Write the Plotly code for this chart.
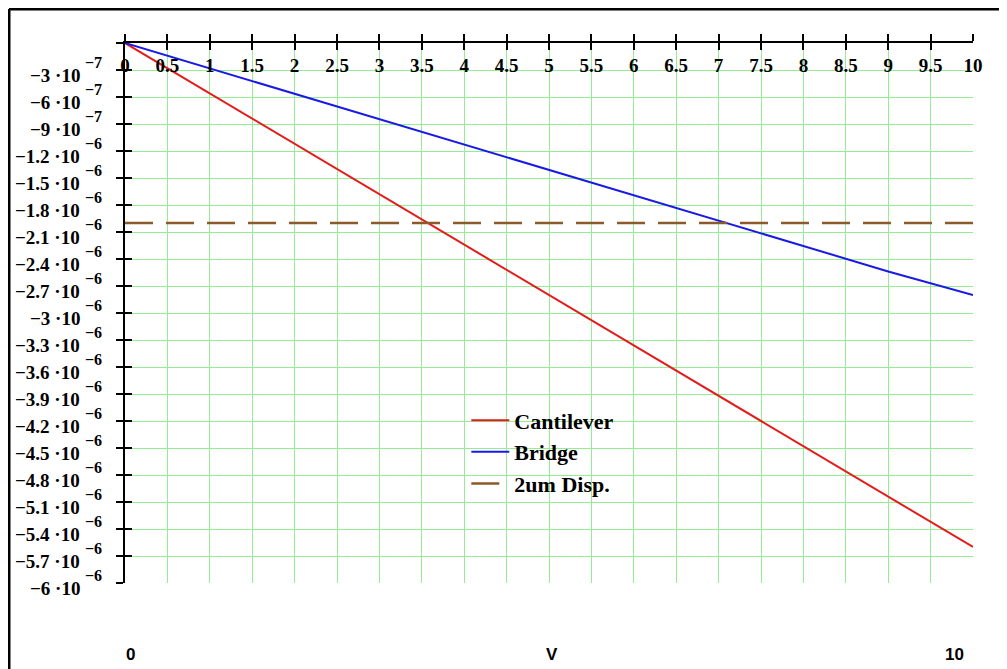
import plotly.graph_objects as go

# ---- data ----
V = [0, 1, 2, 3, 4, 5, 6, 7, 8, 9, 10]
cantilever = [0, -0.56e-6, -1.12e-6, -1.68e-6, -2.24e-6, -2.80e-6,
              -3.36e-6, -3.92e-6, -4.48e-6, -5.04e-6, -5.60e-6]
bridge = [0, -0.282e-6, -0.564e-6, -0.846e-6, -1.128e-6, -1.41e-6,
          -1.692e-6, -1.974e-6, -2.256e-6, -2.538e-6, -2.80e-6]
disp_2um = [-2e-6] * len(V)

x_ticks = [i * 0.5 for i in range(21)]
x_ticktext = ["0", "0.5", "1", "1.5", "2", "2.5", "3", "3.5", "4", "4.5", "5",
              "5.5", "6", "6.5", "7", "7.5", "8", "8.5", "9", "9.5", "10"]
y_mant = ["3", "6", "9", "1.2", "1.5", "1.8", "2.1", "2.4", "2.7", "3", "3.3",
          "3.6", "3.9", "4.2", "4.5", "4.8", "5.1", "5.4", "5.7", "6"]
y_exp = ["7", "7", "7"] + ["6"] * 17
y_ticks = [0] + [-(i + 1) * 3e-7 for i in range(20)]

SERIF = "Liberation Serif"
RED = "#e41b1b"
BLUE = "#1a1ae6"
BROWN = "#8c5a2a"
GRID = "#95ec95"

fig = go.Figure()
fig.add_trace(go.Scatter(x=V, y=cantilever, mode="lines", name="<b>Cantilever</b>",
                         line=dict(color=RED, width=2)))
fig.add_trace(go.Scatter(x=V, y=bridge, mode="lines", name="<b>Bridge</b>",
                         line=dict(color=BLUE, width=2)))
fig.add_trace(go.Scatter(x=V, y=disp_2um, mode="lines", name="<b>2um Disp.</b>",
                         line=dict(color=BROWN, width=2.5, dash="28px,13px")))
# invisible traces to carry the overlay axes
for xa in ["x2", "x3"]:
    fig.add_trace(go.Scatter(x=[0], y=[0], xaxis=xa, yaxis="y2", mode="markers",
                             marker=dict(opacity=0), showlegend=False, hoverinfo="skip"))

tick_common = dict(ticklen=7, tickwidth=2, tickcolor="black")

fig.update_layout(
    width=999, height=661,
    margin=dict(l=117, r=34, t=35, b=86),
    paper_bgcolor="white", plot_bgcolor="white",
    font=dict(family=SERIF, size=19, color="black"),
    # main x axis: line at top, upward ticks, grid
    xaxis=dict(range=[0, 10], side="top", tickvals=x_ticks, showticklabels=False,
               ticks="outside", **tick_common,
               showline=True, linecolor="black", linewidth=2,
               showgrid=True, gridcolor=GRID, gridwidth=1, zeroline=False),
    # downward halves of the crossing ticks
    xaxis2=dict(range=[0, 10], overlaying="x", side="top", tickvals=x_ticks,
                ticks="inside", **tick_common,
                showticklabels=False, showgrid=False, zeroline=False, showline=False),
    # x tick labels just below the top axis line
    xaxis3=dict(range=[0, 10], overlaying="x", anchor="free", position=0.983,
                side="bottom", tickvals=x_ticks,
                ticktext=["<b>%s</b>" % t for t in x_ticktext],
                ticks="", showgrid=False, zeroline=False, showline=False,
                tickfont=dict(family=SERIF, size=19)),
    yaxis=dict(range=[-6e-6, 0], tickvals=y_ticks, showticklabels=False,
               ticks="outside", **tick_common,
               showline=True, linecolor="black", linewidth=2,
               showgrid=True, gridcolor=GRID, gridwidth=1, zeroline=False),
    yaxis2=dict(range=[-6e-6, 0], overlaying="y", side="left", tickvals=y_ticks,
                ticks="inside", **tick_common,
                showticklabels=False, showgrid=False, zeroline=False, showline=False),
    legend=dict(x=0.4025, y=0.34, xanchor="left", yanchor="top",
                bgcolor="rgba(0,0,0,0)", font=dict(family=SERIF, size=22),
                tracegroupgap=0, itemwidth=38),
    showlegend=True,
)

# y tick labels in Mathcad style: mantissa plus raised exponent
for val, m, e in zip(y_ticks[1:], y_mant, y_exp):
    fig.add_annotation(text="<b>\u2212%s \u00b710</b>" % m, xref="paper", yref="y",
                       x=-0.0505, y=val, yshift=-5, showarrow=False,
                       xanchor="right", yanchor="middle",
                       font=dict(family=SERIF, size=19, color="black"))
    fig.add_annotation(text="<b>\u2212%s</b>" % e, xref="paper", yref="y",
                       x=-0.0495, y=val, yshift=8, showarrow=False,
                       xanchor="left", yanchor="middle",
                       font=dict(family=SERIF, size=16, color="black"))

# outer frame (top and left edges)
fig.add_shape(type="line", xref="paper", yref="paper", x0=-0.1368, y0=1.063,
              x1=1.06, y1=1.063, line=dict(color="black", width=3))
fig.add_shape(type="line", xref="paper", yref="paper", x0=-0.1368, y0=1.063,
              x1=-0.1368, y1=-0.2, line=dict(color="black", width=3))

# bottom labels
for txt, px in [("0", 0.006), ("V", 0.504), ("10", 0.978)]:
    fig.add_annotation(text="<b>%s</b>" % txt, xref="paper", yref="paper",
                       x=px, y=-0.133, showarrow=False, xanchor="center", yanchor="middle",
                       font=dict(family="Liberation Sans", size=17, color="black"))

fig.write_html("out.html")
